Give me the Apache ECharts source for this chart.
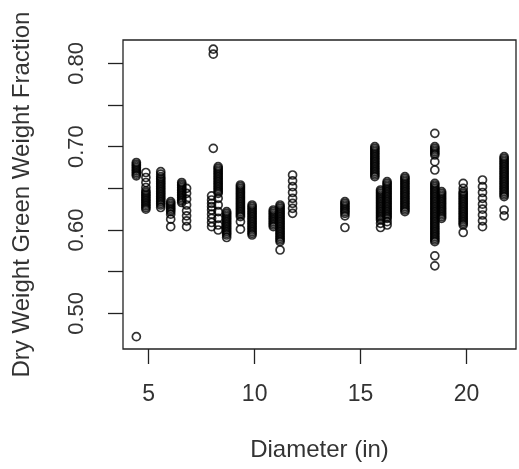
<!DOCTYPE html>
<html>
<head>
<meta charset="utf-8">
<script src="https://cdn.jsdelivr.net/npm/echarts@6/dist/echarts.min.js"></script>
<style>
html,body{margin:0;padding:0;background:#fff;}
#chart{width:519px;height:469px;}
</style>
</head>
<body>
<div id="chart"></div>
<script>
// Diameter (in) of each vertical group of observations
const groupDiameters = [4.42, 4.87, 5.57, 6.04, 6.56, 6.79, 8.05, 7.97, 8.28, 8.68, 9.33, 9.88, 10.88, 11.2, 11.79, 14.26, 15.67, 15.94, 16.25, 17.09, 18.5, 18.82, 19.84, 20.75, 21.77];
// Dry weight / green weight fraction values in each group
const groupFractions = [
  [0.681, 0.679, 0.677, 0.675, 0.673, 0.671, 0.669, 0.667, 0.665, 0.472],
  [0.669, 0.663, 0.657, 0.651, 0.647, 0.645, 0.643, 0.641, 0.639, 0.637, 0.635, 0.633, 0.631, 0.629, 0.627, 0.625],
  [0.670, 0.667, 0.664, 0.662, 0.660, 0.658, 0.656, 0.654, 0.652, 0.650, 0.648, 0.646, 0.644, 0.642, 0.640, 0.638, 0.636, 0.634, 0.632, 0.630, 0.627],
  [0.634, 0.632, 0.630, 0.628, 0.626, 0.624, 0.622, 0.619, 0.613, 0.604],
  [0.657, 0.655, 0.653, 0.651, 0.649, 0.647, 0.645, 0.643, 0.641, 0.639, 0.637, 0.635, 0.633],
  [0.650, 0.644, 0.637, 0.630, 0.623, 0.617, 0.611, 0.604],
  [0.817, 0.811, 0.698],
  [0.641, 0.636, 0.632, 0.628, 0.624, 0.619, 0.614, 0.609, 0.604],
  [0.676, 0.674, 0.672, 0.670, 0.668, 0.666, 0.664, 0.662, 0.660, 0.658, 0.656, 0.654, 0.652, 0.650, 0.648, 0.646, 0.644, 0.638, 0.630, 0.622, 0.614, 0.606, 0.600],
  [0.622, 0.620, 0.618, 0.616, 0.614, 0.612, 0.610, 0.608, 0.606, 0.604, 0.602, 0.600, 0.598, 0.596, 0.594, 0.591],
  [0.654, 0.652, 0.650, 0.648, 0.646, 0.644, 0.642, 0.640, 0.638, 0.636, 0.634, 0.632, 0.630, 0.628, 0.626, 0.624, 0.622, 0.620, 0.618, 0.616, 0.610, 0.601],
  [0.630, 0.628, 0.626, 0.624, 0.622, 0.620, 0.618, 0.616, 0.614, 0.612, 0.610, 0.608, 0.606, 0.604, 0.602, 0.600, 0.598, 0.596, 0.594],
  [0.624, 0.622, 0.620, 0.618, 0.616, 0.614, 0.612, 0.610, 0.608, 0.606, 0.604],
  [0.630, 0.628, 0.626, 0.624, 0.622, 0.620, 0.618, 0.616, 0.614, 0.612, 0.610, 0.608, 0.606, 0.604, 0.602, 0.600, 0.598, 0.596, 0.594, 0.592, 0.590, 0.588, 0.586, 0.576],
  [0.666, 0.659, 0.652, 0.645, 0.638, 0.632, 0.626, 0.620],
  [0.634, 0.632, 0.630, 0.628, 0.626, 0.624, 0.622, 0.620, 0.617, 0.603],
  [0.700, 0.698, 0.696, 0.694, 0.692, 0.690, 0.688, 0.686, 0.684, 0.682, 0.680, 0.678, 0.676, 0.674, 0.672, 0.670, 0.668, 0.666, 0.664],
  [0.648, 0.646, 0.644, 0.642, 0.640, 0.638, 0.636, 0.634, 0.632, 0.630, 0.628, 0.626, 0.624, 0.622, 0.620, 0.618, 0.616, 0.614, 0.612, 0.608, 0.603],
  [0.658, 0.656, 0.654, 0.652, 0.650, 0.648, 0.646, 0.644, 0.642, 0.640, 0.638, 0.636, 0.634, 0.632, 0.630, 0.628, 0.626, 0.624, 0.622, 0.620, 0.618, 0.616, 0.614, 0.610, 0.606],
  [0.664, 0.662, 0.660, 0.658, 0.656, 0.654, 0.652, 0.650, 0.648, 0.646, 0.644, 0.642, 0.640, 0.638, 0.636, 0.634, 0.632, 0.630, 0.628, 0.626, 0.624, 0.622],
  [0.716, 0.700, 0.698, 0.696, 0.694, 0.692, 0.690, 0.682, 0.672, 0.656, 0.654, 0.652, 0.650, 0.648, 0.646, 0.644, 0.642, 0.640, 0.638, 0.636, 0.634, 0.632, 0.630, 0.628, 0.626, 0.624, 0.622, 0.620, 0.618, 0.616, 0.614, 0.612, 0.610, 0.608, 0.606, 0.604, 0.602, 0.600, 0.598, 0.596, 0.594, 0.592, 0.590, 0.588, 0.586, 0.569, 0.557],
  [0.646, 0.644, 0.642, 0.640, 0.638, 0.636, 0.634, 0.632, 0.630, 0.628, 0.626, 0.624, 0.622, 0.620, 0.618, 0.616, 0.614],
  [0.656, 0.650, 0.646, 0.644, 0.642, 0.640, 0.638, 0.636, 0.634, 0.632, 0.630, 0.628, 0.626, 0.624, 0.622, 0.620, 0.618, 0.616, 0.614, 0.612, 0.610, 0.608, 0.606, 0.597],
  [0.660, 0.652, 0.645, 0.638, 0.631, 0.625, 0.618, 0.611, 0.604],
  [0.688, 0.686, 0.684, 0.682, 0.680, 0.678, 0.676, 0.674, 0.672, 0.670, 0.668, 0.666, 0.664, 0.662, 0.660, 0.658, 0.656, 0.654, 0.652, 0.650, 0.648, 0.646, 0.644, 0.642, 0.640, 0.624, 0.617]
];
const xTickValues = [5, 10, 15, 20];
const yTickValues = [0.50, 0.55, 0.60, 0.65, 0.70, 0.75, 0.80];
const yLabelValues = [0.50, 0.60, 0.70, 0.80];
const xTitle = 'Diameter (in)';
const yTitle = 'Dry Weight Green Weight Fraction';

const points = [];
groupDiameters.forEach((d, i) => {
  groupFractions[i].forEach(v => points.push([d, v]));
});

const font = 'Liberation Sans, Arial, sans-serif';
const chart = echarts.init(document.getElementById('chart'), null, {renderer: 'canvas'});
chart.setOption({
  animation: false,
  backgroundColor: '#fff',
  grid: {
    left: 123, top: 40, right: 3, bottom: 120,
    show: true, borderColor: '#222', borderWidth: 1.3, backgroundColor: 'transparent'
  },
  xAxis: {
    type: 'value', min: 3.79, max: 22.33,
    name: xTitle, nameLocation: 'middle', nameGap: 89,
    nameTextStyle: {fontFamily: font, fontSize: 24, color: '#333'},
    axisLine: {show: false},
    axisTick: {show: true, inside: false, length: 15, customValues: xTickValues, lineStyle: {color: '#222', width: 1.3}},
    axisLabel: {customValues: xTickValues, margin: 34, fontFamily: font, fontSize: 23, color: '#333'},
    splitLine: {show: false}
  },
  yAxis: {
    type: 'value', min: 0.4572, max: 0.828,
    name: yTitle, nameLocation: 'middle', nameGap: 89, nameRotate: 90,
    nameTextStyle: {fontFamily: font, fontSize: 24, color: '#333'},
    axisLine: {show: false},
    axisTick: {show: true, inside: false, length: 15, customValues: yTickValues, lineStyle: {color: '#222', width: 1.3}},
    axisLabel: {customValues: yLabelValues, rotate: 90, margin: 35, fontFamily: font, fontSize: 22, color: '#333',
      formatter: v => v.toFixed(2)},
    splitLine: {show: false}
  },
  series: [{
    type: 'scatter',
    data: points,
    symbol: 'circle',
    symbolSize: 8,
    itemStyle: {color: 'rgba(0,0,0,0)', borderColor: '#000', borderWidth: 1.7},
    emphasis: {disabled: true},
    silent: true
  }]
});
</script>
</body>
</html>
